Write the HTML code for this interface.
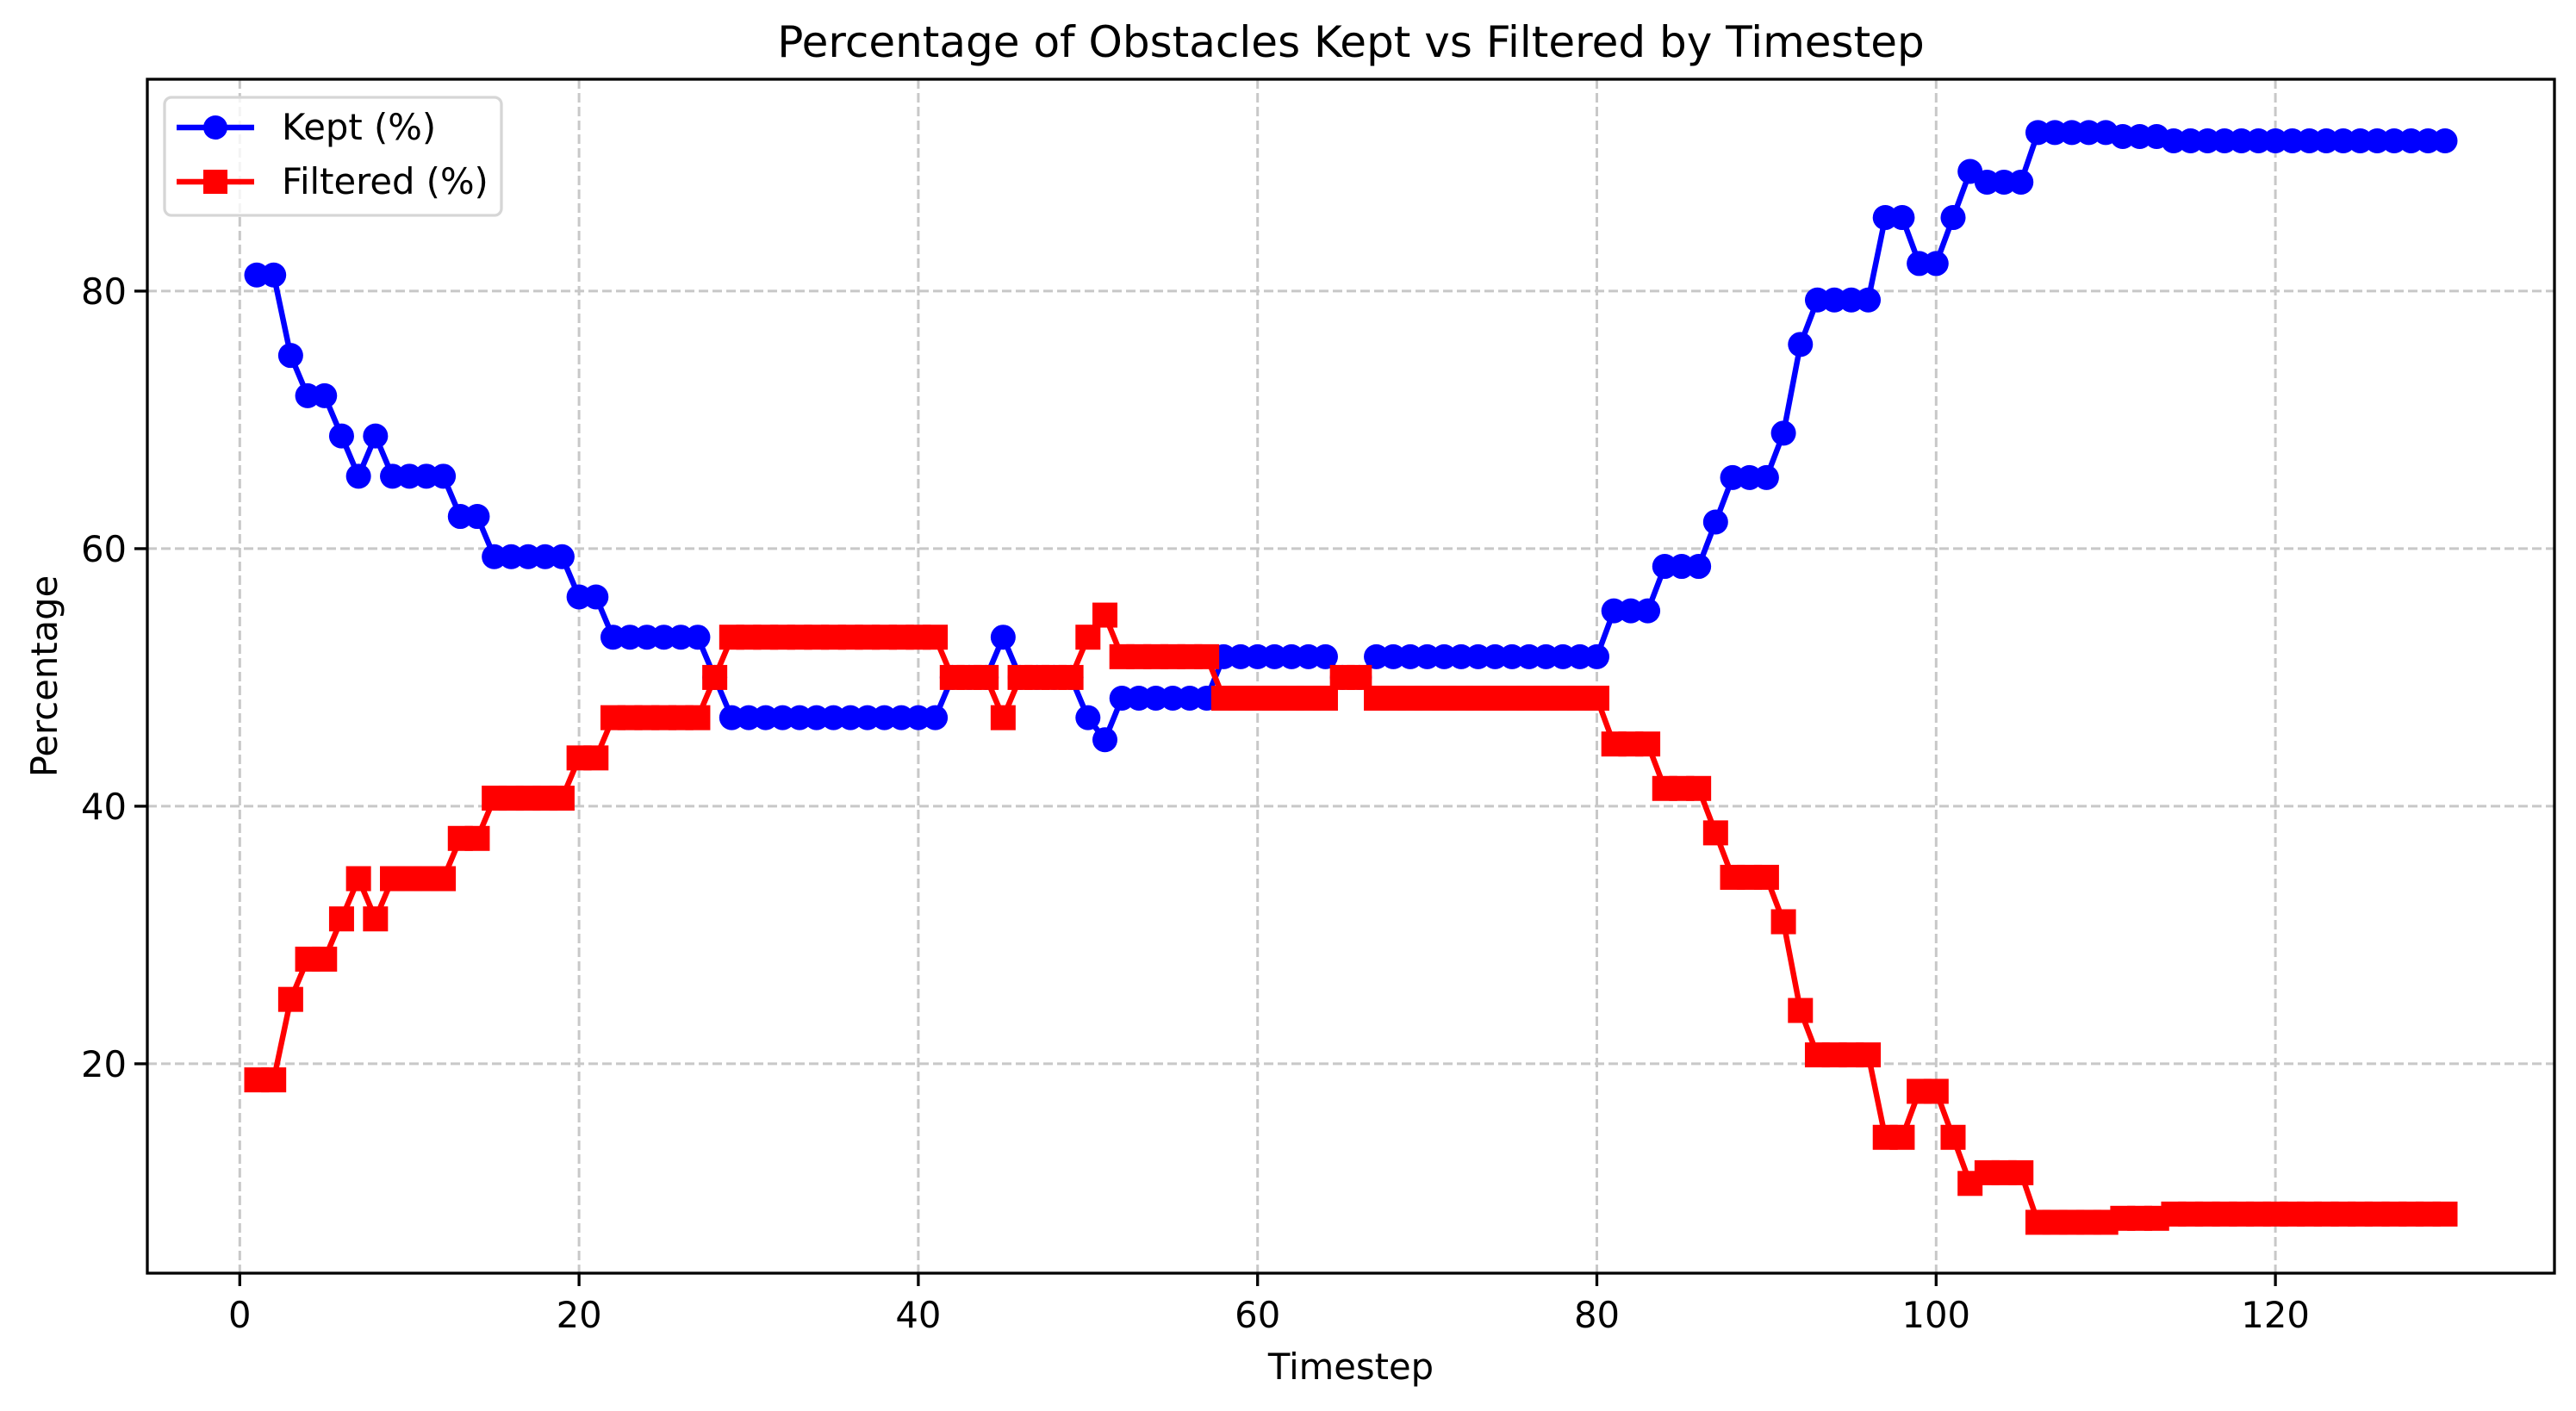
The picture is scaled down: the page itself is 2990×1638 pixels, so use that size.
<!DOCTYPE html>
<html><head><meta charset="utf-8"><style>
html,body{margin:0;padding:0;background:#fff;}
svg{display:block;font-family:"DejaVu Sans","Liberation Sans",sans-serif;}
</style></head><body>
<svg id="chart" width="2990" height="1638" viewBox="0 0 2990 1638" xmlns="http://www.w3.org/2000/svg">
<rect width="2990" height="1638" fill="#fff"/>
<g id="grid"></g>
<g id="series"></g>
<rect x="171" y="92" width="2794" height="1386" fill="none" stroke="#000" stroke-width="3.3"/>
<g id="axes"></g>
<text x="1568" y="66" font-size="50" text-anchor="middle">Percentage of Obstacles Kept vs Filtered by Timestep</text>
<text x="1568" y="1601" font-size="41.7" text-anchor="middle">Timestep</text>
<text x="0" y="0" font-size="41.7" text-anchor="middle" transform="translate(66,785) rotate(-90)">Percentage</text>
<g>
<rect x="191" y="113" width="391" height="137" rx="8" fill="#fff" fill-opacity="0.8" stroke="#d6d6d6" stroke-width="3.3"/>
<g>
<line x1="205" y1="148" x2="295" y2="148" stroke="#0000ff" stroke-width="6.5"/>
<circle cx="250" cy="148" r="14" fill="#0000ff"/>
<text x="327" y="162" font-size="41.7">Kept (%)</text>
</g>
<g>
<line x1="205" y1="211" x2="295" y2="211" stroke="#ff0000" stroke-width="6.5"/>
<rect x="236" y="197" width="28" height="28" fill="#ff0000"/>
<text x="327" y="225" font-size="41.7">Filtered (%)</text>
</g>
</g>
</svg>
<script>
const timesteps = [];
for (let i = 1; i <= 130; i++) timesteps.push(i);
const keptValues = [81.25,81.25,75,71.875,71.875,68.75,65.625,68.75,65.625,65.625,65.625,65.625,62.5,62.5,59.375,59.375,59.375,59.375,59.375,56.25,56.25,53.125,53.125,53.125,53.125,53.125,53.125,50,46.875,46.875,46.875,46.875,46.875,46.875,46.875,46.875,46.875,46.875,46.875,46.875,46.875,50,50,50,53.125,50,50,50,50,46.875,45.16,48.39,48.39,48.39,48.39,48.39,48.39,51.61,51.61,51.61,51.61,51.61,51.61,51.61,50,50,51.61,51.61,51.61,51.61,51.61,51.61,51.61,51.61,51.61,51.61,51.61,51.61,51.61,51.61,55.17,55.17,55.17,58.62,58.62,58.62,62.07,65.52,65.52,65.52,68.97,75.86,79.31,79.31,79.31,79.31,85.71,85.71,82.14,82.14,85.71,89.29,88.46,88.46,88.46,92.31,92.31,92.31,92.31,92.31,92,92,92,91.67,91.67,91.67,91.67,91.67,91.67,91.67,91.67,91.67,91.67,91.67,91.67,91.67,91.67,91.67,91.67,91.67,91.67];
const filteredValues = [18.75,18.75,25,28.125,28.125,31.25,34.375,31.25,34.375,34.375,34.375,34.375,37.5,37.5,40.625,40.625,40.625,40.625,40.625,43.75,43.75,46.875,46.875,46.875,46.875,46.875,46.875,50,53.125,53.125,53.125,53.125,53.125,53.125,53.125,53.125,53.125,53.125,53.125,53.125,53.125,50,50,50,46.875,50,50,50,50,53.125,54.84,51.61,51.61,51.61,51.61,51.61,51.61,48.39,48.39,48.39,48.39,48.39,48.39,48.39,50,50,48.39,48.39,48.39,48.39,48.39,48.39,48.39,48.39,48.39,48.39,48.39,48.39,48.39,48.39,44.83,44.83,44.83,41.38,41.38,41.38,37.93,34.48,34.48,34.48,31.03,24.14,20.69,20.69,20.69,20.69,14.29,14.29,17.86,17.86,14.29,10.71,11.54,11.54,11.54,7.69,7.69,7.69,7.69,7.69,8,8,8,8.33,8.33,8.33,8.33,8.33,8.33,8.33,8.33,8.33,8.33,8.33,8.33,8.33,8.33,8.33,8.33,8.33,8.33];
const xTicks = [0,20,40,60,80,100,120];
const yTicks = [20,40,60,80];

const NS = "http://www.w3.org/2000/svg";
const L = 171, R = 2965, T = 92, B = 1478;
const xMin = -5.45, xMax = 136.45, yMin = 3.74, yMax = 96.45;
const sx = v => L + (v - xMin) / (xMax - xMin) * (R - L);
const sy = v => B - (v - yMin) / (yMax - yMin) * (B - T);
function mk(tag, attrs, parent) {
  const e = document.createElementNS(NS, tag);
  for (const k in attrs) e.setAttribute(k, attrs[k]);
  parent.appendChild(e);
  return e;
}
const grid = document.getElementById('grid');
const axes = document.getElementById('axes');
const series = document.getElementById('series');
xTicks.forEach(t => {
  const x = sx(t);
  const g = mk('line', {x1:x, y1:T, x2:x, y2:B, stroke:'#c8c8c8', 'stroke-width':3, 'stroke-dasharray':'11,5'}, grid);
  
  
  const tk = mk('line', {x1:x, y1:B, x2:x, y2:B+15, stroke:'#000', 'stroke-width':3.3}, axes);
  
  
  const lb = mk('text', {x:x, y:B+63, 'font-size':41.7, 'text-anchor':'middle'}, axes);
  
  
  lb.textContent = t;
});
yTicks.forEach(t => {
  const y = sy(t);
  const g = mk('line', {x1:L, y1:y, x2:R, y2:y, stroke:'#c8c8c8', 'stroke-width':3, 'stroke-dasharray':'11,5'}, grid);
  
  
  const tk = mk('line', {x1:L-15, y1:y, x2:L, y2:y, stroke:'#000', 'stroke-width':3.3}, axes);
  
  
  const lb = mk('text', {x:L-24, y:y+15, 'font-size':41.7, 'text-anchor':'end'}, axes);
  
  
  lb.textContent = t;
});
function drawSeries(vals, color, shape, name) {
  const g = mk('g', {}, series);
  
  
  const pts = timesteps.map((t, i) => sx(t).toFixed(2) + ',' + sy(vals[i]).toFixed(2)).join(' ');
  const pl = mk('polyline', {points:pts, fill:'none', stroke:color, 'stroke-width':6.5, 'stroke-linejoin':'round'}, g);
  
  
  timesteps.forEach((t, i) => {
    const x = sx(t), y = sy(vals[i]);
    let m;
    if (shape === 'circle') m = mk('circle', {cx:x, cy:y, r:14.5, fill:color}, g);
    else m = mk('rect', {x:x-14.5, y:y-14.5, width:29, height:29, fill:color}, g);
    
    
  });
}
drawSeries(keptValues, '#0000ff', 'circle', 'kept');
drawSeries(filteredValues, '#ff0000', 'square', 'filtered');
</script>
</body></html>
